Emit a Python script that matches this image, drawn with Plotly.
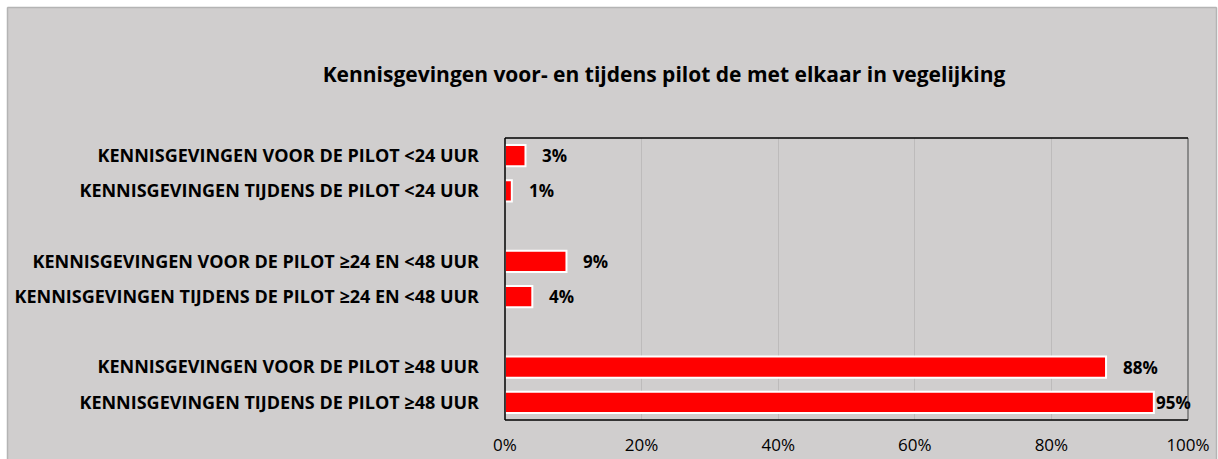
import plotly.graph_objects as go

title = "Kennisgevingen voor- en tijdens pilot de met elkaar in vegelijking"
categories = [
    "KENNISGEVINGEN VOOR DE PILOT <24 UUR",
    "KENNISGEVINGEN TIJDENS DE PILOT <24 UUR",
    "KENNISGEVINGEN VOOR DE PILOT ≥24 EN <48 UUR",
    "KENNISGEVINGEN TIJDENS DE PILOT ≥24 EN <48 UUR",
    "KENNISGEVINGEN VOOR DE PILOT ≥48 UUR",
    "KENNISGEVINGEN TIJDENS DE PILOT ≥48 UUR",
]
values = [0.03, 0.01, 0.09, 0.04, 0.88, 0.95]
value_labels = ["3%", "1%", "9%", "4%", "88%", "95%"]
x_ticks = [0, 0.2, 0.4, 0.6, 0.8, 1.0]
x_tick_labels = ["0%", "20%", "40%", "60%", "80%", "100%"]

W, H = 1218, 459
L, R, T, B = 505, 1188, 138, 420
FONT = "Open Sans"
BG = "#d0cece"

# pairs of bars, with an empty slot between groups
positions = [i + i // 2 for i in range(len(categories))]


def fx(px):
    return (px - L) / (R - L)


def fy(py):
    return (B - py) / (B - T)


fig = go.Figure()
fig.add_trace(go.Bar(
    x=values, y=positions, orientation="h",
    marker=dict(color="#ff0000", line=dict(color="white", width=2)),
    width=0.6, hoverinfo="skip",
))

for v, p, lab in zip(values, positions, value_labels):
    fig.add_annotation(
        x=v, y=p, text=f"<b>{lab}</b>", showarrow=False, xanchor="left", yanchor="middle",
        xshift=15 if v < 0.9 else 0,
        font=dict(family=FONT, size=17, color="#000"),
    )

shapes = [
    # white outer margin
    dict(type="rect", xref="paper", yref="paper", x0=fx(0), x1=fx(7), y0=fy(W), y1=fy(0),
         fillcolor="white", line_width=0, layer="below"),
    dict(type="rect", xref="paper", yref="paper", x0=fx(0), x1=fx(W), y0=fy(7), y1=fy(0),
         fillcolor="white", line_width=0, layer="below"),
    dict(type="rect", xref="paper", yref="paper", x0=fx(1217), x1=fx(W), y0=fy(W), y1=fy(0),
         fillcolor="white", line_width=0, layer="below"),
    # chart border
    dict(type="line", xref="paper", yref="paper", x0=fx(7.5), x1=fx(7.5), y0=fy(7.5), y1=fy(470),
         line=dict(color="#b4b4b4", width=1.5)),
    dict(type="line", xref="paper", yref="paper", x0=fx(7.5), x1=fx(1216.5), y0=fy(7.5), y1=fy(7.5),
         line=dict(color="#b4b4b4", width=1.5)),
    dict(type="line", xref="paper", yref="paper", x0=fx(1216.5), x1=fx(1216.5), y0=fy(7.5), y1=fy(470),
         line=dict(color="#b4b4b4", width=1.5)),
    # plot area border
    dict(type="line", xref="paper", yref="paper", x0=1, x1=1, y0=0, y1=1,
         line=dict(color="#8a8a8a", width=2)),
    dict(type="line", xref="paper", yref="paper", x0=0, x1=1, y0=1, y1=1,
         line=dict(color="#000", width=1.5)),
    dict(type="line", xref="paper", yref="paper", x0=0, x1=1, y0=0, y1=0,
         line=dict(color="#000", width=1.5)),
    dict(type="line", xref="paper", yref="paper", x0=0, x1=0, y0=0, y1=1,
         line=dict(color="#000", width=1.5)),
]

fig.update_layout(
    width=W, height=H,
    margin=dict(l=L, r=W - R, t=T, b=H - B, pad=0, autoexpand=False),
    paper_bgcolor=BG, plot_bgcolor=BG,
    showlegend=False,
    shapes=shapes,
    title=dict(text=f"<b>{title}</b>", xref="container", x=664 / W, xanchor="center",
               yref="container", y=1 - 75 / H, yanchor="middle",
               font=dict(family=FONT, size=21, color="#000"), automargin=False),
    xaxis=dict(range=[0, 1], tickvals=x_ticks, ticktext=x_tick_labels, automargin=False,
               showgrid=True, gridcolor="#bdbbbb", gridwidth=1, zeroline=False,
               showline=False, ticks="", ticklabelstandoff=13,
               tickfont=dict(family=FONT, size=17, color="#000"), fixedrange=True),
    yaxis=dict(range=[len(categories) + (len(categories) // 2 - 1) - 0.5, -0.5], automargin=False,
               tickvals=positions, ticktext=[f"<b>{c}</b>" for c in categories],
               showgrid=False, zeroline=False, showline=False, ticks="", ticklabelstandoff=25,
               tickfont=dict(family=FONT, size=18, color="#000"), fixedrange=True),
    bargap=0.4,
)

fig.write_html(
    "out.html",
    config={"displayModeBar": False},
    post_script="document.body.style.margin='0';document.body.style.overflow='hidden';",
)
